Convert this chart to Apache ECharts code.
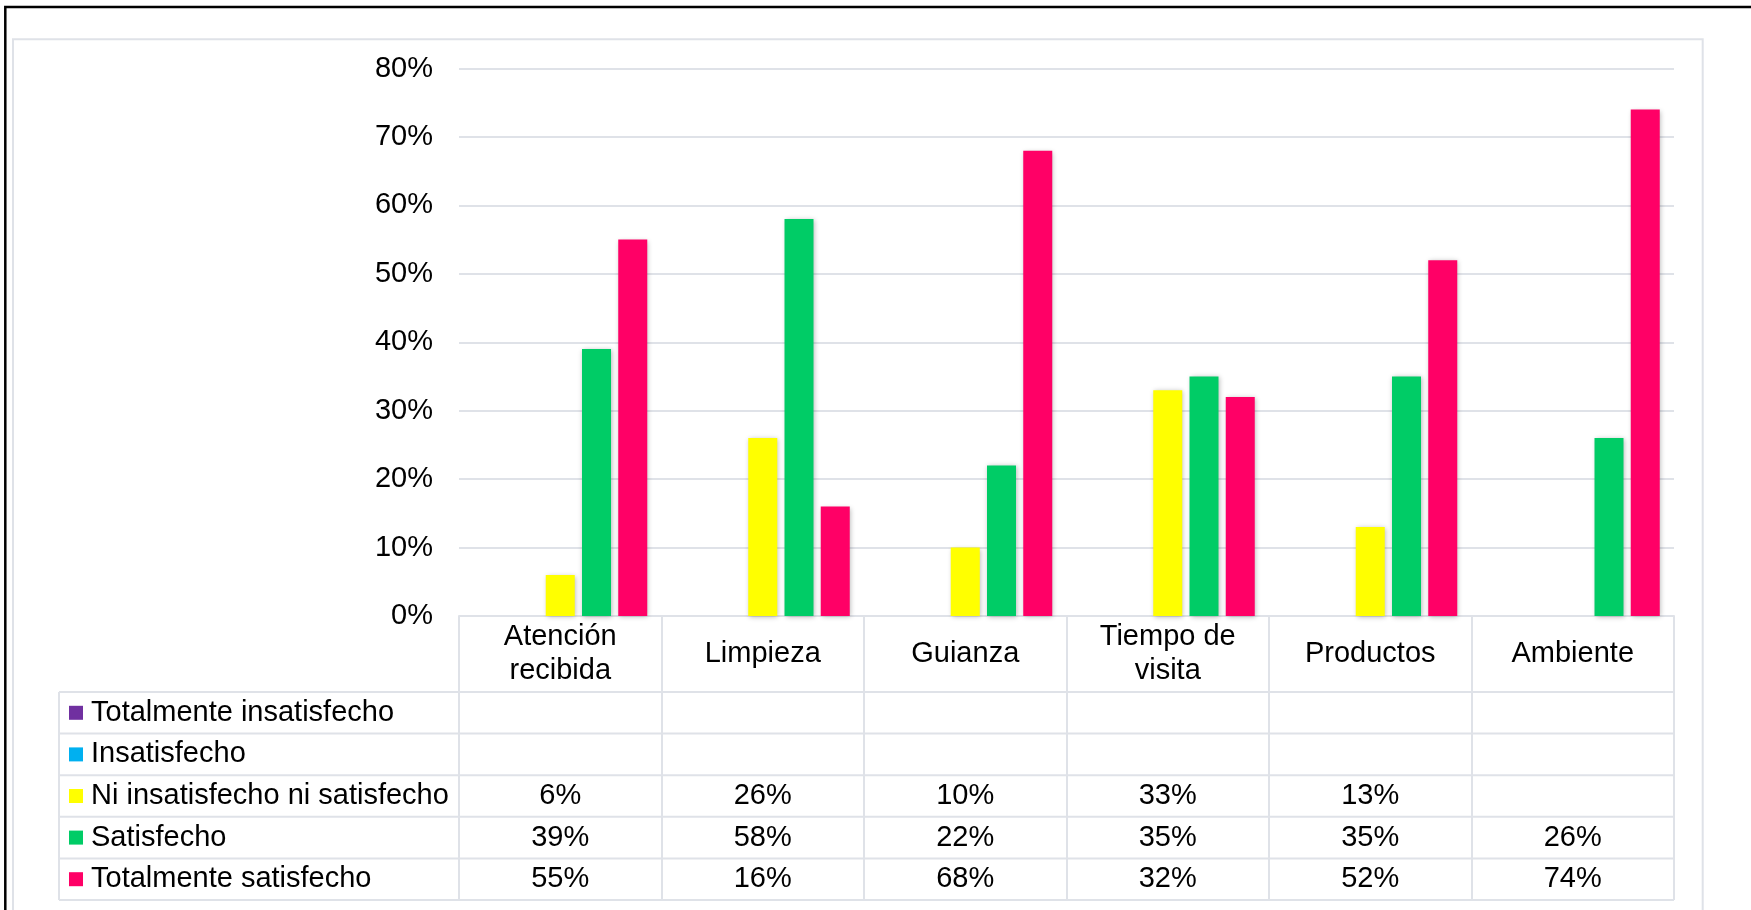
<!DOCTYPE html>
<html>
<head>
<meta charset="utf-8">
<title>Satisfacción del visitante</title>
<script src="https://cdn.jsdelivr.net/npm/echarts@6/dist/echarts.min.js"></script>
<style>
  html, body { margin: 0; padding: 0; background: #ffffff; }
  #chart { width: 1751px; height: 910px; }
</style>
</head>
<body>
<div id="chart"></div>
<script>
// Categories evaluated by visitors
const categories = ['Atención\nrecibida', 'Limpieza', 'Guianza', 'Tiempo de\nvisita', 'Productos', 'Ambiente'];

// Answer levels (one series each)
const seriesNames = [
  'Totalmente insatisfecho',
  'Insatisfecho',
  'Ni insatisfecho ni satisfecho',
  'Satisfecho',
  'Totalmente satisfecho'
];

// Percent of answers per category (null = no answers)
const totalmenteInsatisfecho = [null, null, null, null, null, null];
const insatisfecho           = [null, null, null, null, null, null];
const niInsatisfechoNiSatisfecho = [6, 26, 10, 33, 13, null];
const satisfecho             = [39, 58, 22, 35, 35, 26];
const totalmenteSatisfecho   = [55, 16, 68, 32, 52, 74];

// Value axis ticks (percent)
const yMin = 0;
const yMax = 80;
const yInterval = 10;

const seriesValues = [totalmenteInsatisfecho, insatisfecho, niInsatisfechoNiSatisfecho, satisfecho, totalmenteSatisfecho];
const seriesColors = ['#7030A0', '#00B0F0', '#FFFF00', '#00CC66', '#FF0066'];

// Layout
const W = 1751, H = 910;
const plotLeft = 459, plotRight = 1674, plotTop = 68.5, axisY = 616;
const headerH = 76, rowH = 41.6;
const tableLeft = 59;
const tableBottom = axisY + headerH + rowH * seriesNames.length;
const lineColor = '#dfe2e8';
const textColor = '#000000';
const fontFamily = '"Liberation Sans", Arial, sans-serif';
const fontSize = 29;

const chart = echarts.init(document.getElementById('chart'), null, { renderer: 'canvas' });

// Main category axis (header row of the data table) + one hidden axis per table row
const xAxes = [{
  type: 'category',
  data: categories,
  gridIndex: 0,
  position: 'bottom',
  axisLine: { show: true, lineStyle: { color: lineColor, width: 2 } },
  axisTick: { show: true, alignWithLabel: false, length: tableBottom - axisY, lineStyle: { color: lineColor, width: 2 } },
  axisLabel: {
    interval: 0, margin: headerH / 2, verticalAlign: 'middle',
    color: textColor, fontFamily, fontSize, lineHeight: 33.5
  },
  splitLine: { show: false }
}];
seriesValues.forEach((vals, i) => {
  xAxes.push({
    type: 'category',
    data: categories,
    gridIndex: 0,
    position: 'bottom',
    axisLine: { show: false },
    axisTick: { show: false },
    splitLine: { show: false },
    axisLabel: {
      interval: 0,
      margin: headerH + rowH * i + rowH / 2,
      verticalAlign: 'middle',
      color: textColor, fontFamily, fontSize,
      formatter: (v, idx) => (vals[idx] == null ? '' : vals[idx] + '%')
    }
  });
});

// Table grid lines (rows) and the legend column border
const tableGraphics = [];
for (let k = 0; k <= seriesNames.length; k++) {
  const y = axisY + headerH + rowH * k;
  tableGraphics.push({
    type: 'line', silent: true, z: 1,
    shape: { x1: tableLeft, y1: y, x2: plotRight, y2: y },
    style: { stroke: lineColor, lineWidth: 2 }
  });
}
tableGraphics.push({
  type: 'line', silent: true, z: 1,
  shape: { x1: tableLeft, y1: axisY + headerH, x2: tableLeft, y2: tableBottom },
  style: { stroke: lineColor, lineWidth: 2 }
});

const option = {
  backgroundColor: '#ffffff',
  animation: false,
  textStyle: { fontFamily },
  grid: {
    left: plotLeft, right: W - plotRight, top: plotTop, bottom: H - axisY,
    containLabel: false, outerBoundsMode: 'none'
  },
  legend: {
    orient: 'vertical',
    left: 69,
    top: axisY + headerH + rowH / 2 - 15,
    padding: 0,
    itemWidth: 14, itemHeight: 14,
    itemGap: rowH - 30,
    icon: 'rect',
    selectedMode: false,
    data: seriesNames,
    itemStyle: { shadowBlur: 0, shadowColor: 'transparent', borderWidth: 0 },
    textStyle: { color: textColor, fontFamily, fontSize, lineHeight: 30, padding: [0, 0, 0, 3] }
  },
  xAxis: xAxes,
  yAxis: {
    type: 'value',
    min: yMin, max: yMax, interval: yInterval,
    axisLine: { show: false },
    axisTick: { show: false },
    axisLabel: {
      margin: 26, color: textColor, fontFamily, fontSize,
      formatter: '{value}%'
    },
    splitLine: { lineStyle: { color: lineColor, width: 2 } }
  },
  series: seriesNames.map((name, i) => ({
    name,
    type: 'bar',
    xAxisIndex: 0,
    yAxisIndex: 0,
    data: seriesValues[i],
    barWidth: 29,
    barGap: '25%',
    itemStyle: {
      color: seriesColors[i],
      shadowBlur: 5,
      shadowColor: 'rgba(0,0,0,0.28)',
      shadowOffsetX: 1,
      shadowOffsetY: 1
    }
  })),
  graphic: [
    // outer frame
    {
      type: 'rect', silent: true, z: 0,
      shape: { x: 5.3, y: 7, width: W + 20, height: H + 20 },
      style: { fill: null, stroke: '#000000', lineWidth: 2.5 }
    },
    // chart area border
    {
      type: 'rect', silent: true, z: 0,
      shape: { x: 13, y: 39.3, width: 1702.7 - 13, height: H + 20 },
      style: { fill: null, stroke: lineColor, lineWidth: 2 }
    }
  ].concat(tableGraphics)
};

chart.setOption(option);
</script>
</body>
</html>
